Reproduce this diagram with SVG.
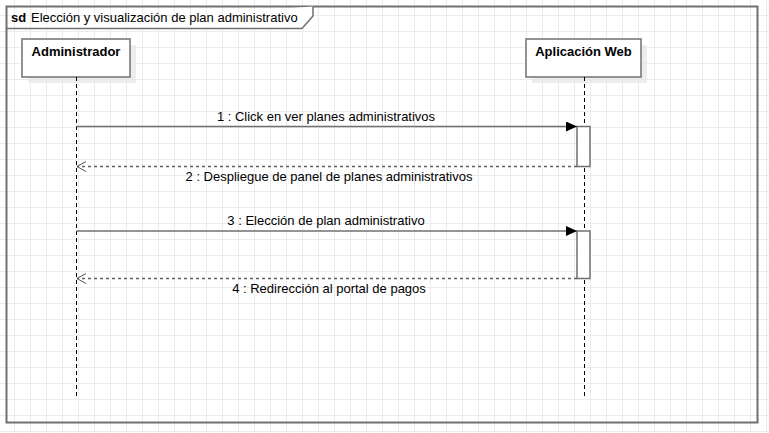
<svg xmlns="http://www.w3.org/2000/svg" width="769" height="433" viewBox="0 0 769 433">
<style>
.t{font-family:"Liberation Sans",Arial,sans-serif;font-size:13px;fill:#000}
.b{font-weight:bold}
.box{fill:#fff;stroke:#707070;stroke-width:1.5}
.sh{fill:#e8e8e8;opacity:0.8}
.life{stroke:#000;stroke-width:1;stroke-dasharray:4,3;fill:none}
.msg{stroke:#707070;stroke-width:1.5;fill:none}
.ret{stroke:#606060;stroke-width:1.3;stroke-dasharray:3,3;fill:none}
.act{fill:#fff;stroke:#707070;stroke-width:1.5}
</style>
<defs>
<pattern id="grid" width="16" height="16" patternUnits="userSpaceOnUse" x="0" y="0">
<path d="M14.5 0V16M0 15.5H16" stroke="#ececec" stroke-width="1" fill="none"/>
</pattern>
<marker id="fill" markerWidth="12" markerHeight="10" refX="11" refY="5" orient="auto" markerUnits="userSpaceOnUse">
<path d="M0 0L11 5L0 10Z" fill="#000"/>
</marker>
<marker id="open" markerWidth="12" markerHeight="12" refX="10" refY="5" orient="auto" markerUnits="userSpaceOnUse">
<path d="M1 0L10 5L1 10" fill="none" stroke="#555" stroke-width="1"/>
</marker>
</defs>
<rect width="769" height="433" fill="#fff"/>
<rect width="769" height="433" fill="url(#grid)"/>
<g id="frame">
<rect x="6.5" y="6.5" width="751" height="416" fill="none" stroke="#707070" stroke-width="2"/>
<path d="M6.5 28.5H302L313 16V6.5" fill="#fff" stroke="#707070" stroke-width="1.5"/>
<text class="t b" x="11" y="22" font-size="14">sd</text>
<text class="t" x="31" y="22" font-size="13.5">Elección y visualización de plan administrativo</text>
</g>
<g id="lifeline-administrador">
<rect class="sh" x="28" y="45" width="108" height="38"/>
<rect class="box" x="22" y="39" width="108" height="38"/>
<text class="t b" x="76" y="55.5" text-anchor="middle">Administrador</text>
<line class="life" x1="76.5" y1="77" x2="76.5" y2="398"/>
</g>
<g id="lifeline-aplicacion">
<rect class="sh" x="532" y="45" width="115" height="38"/>
<rect class="box" x="526" y="39" width="115" height="38"/>
<text class="t b" x="583.5" y="55.5" text-anchor="middle">Aplicación Web</text>
<line class="life" x1="584.5" y1="77" x2="584.5" y2="398"/>
</g>
<g id="activations">
<rect class="act" x="577" y="126.5" width="13" height="40"/>
<rect class="act" x="577" y="231" width="13" height="47.5"/>
</g>
<g id="connectors">
<line class="msg" x1="76.5" y1="126.5" x2="577" y2="126.5" marker-end="url(#fill)"/>
<text class="t" x="326" y="121" text-anchor="middle">1 : Click en ver planes administrativos</text>
<line class="ret" x1="577" y1="166.5" x2="77" y2="166.5" marker-end="url(#open)"/>
<text class="t" x="329" y="181" text-anchor="middle">2 : Despliegue de panel de planes administrativos</text>
<line class="msg" x1="76.5" y1="231" x2="577" y2="231" marker-end="url(#fill)"/>
<text class="t" x="326" y="225" text-anchor="middle">3 : Elección de plan administrativo</text>
<line class="ret" x1="577" y1="278.5" x2="77" y2="278.5" marker-end="url(#open)"/>
<text class="t" x="329" y="293" text-anchor="middle">4 : Redirección al portal de pagos</text>
</g>
</svg>
